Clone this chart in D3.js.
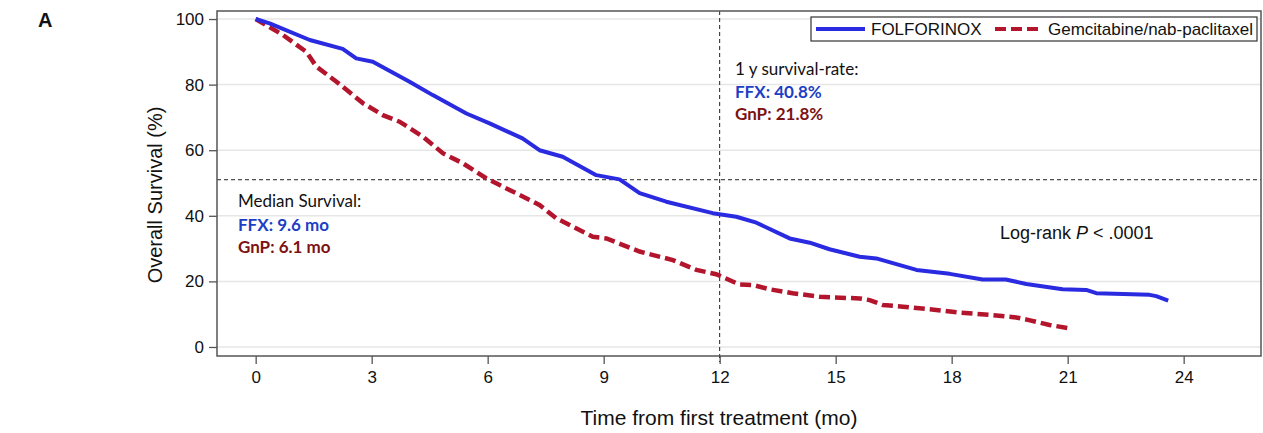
<!DOCTYPE html>
<html>
<head>
<meta charset="utf-8">
<script src="https://cdn.jsdelivr.net/npm/d3@7"></script>
<style>
  html, body { margin: 0; padding: 0; background: #fff; }
  svg { display: block; }
</style>
</head>
<body>
<div id="chart"></div>
<script>
// Kaplan-Meier curves (months, % alive)
const ffxMonths = [0, 0.36, 1.4, 2.25, 2.6, 3.03, 3.98, 4.58, 5.45, 6.05, 6.9, 7.34, 7.94, 8.81, 9.41, 9.93,
  10.62, 11.82, 12.43, 12.95, 13.81, 14.33, 14.84, 15.62, 16.05, 17.09, 17.95, 18.8, 19.4, 19.93, 20.87,
  21.48, 21.74, 23.12, 23.29, 23.6];
const ffxSurvival = [100, 98.7, 93.6, 90.9, 88, 87, 80.9, 76.8, 71.2, 68.2, 63.6, 60, 58, 52.4, 51.1, 46.9,
  44.3, 40.8, 39.7, 37.9, 33.1, 31.8, 29.8, 27.5, 27.0, 23.5, 22.3, 20.6, 20.6, 19.2, 17.6,
  17.4, 16.4, 15.9, 15.5, 14.1];

const gnpMonths = [0, 0.71, 1.31, 1.57, 2.09, 2.78, 3.29, 3.72, 4.33, 4.84, 5.36, 5.97, 6.31, 7.34, 7.78,
  8.72, 9.07, 9.93, 10.79, 11.4, 11.91, 12.5, 12.86, 13.29, 13.89, 14.59, 15.62, 15.88, 16.22, 16.74,
  17.6, 18.2, 18.98, 19.67, 20.0, 20.53, 21.05];
const gnpSurvival = [100, 95.1, 90, 85.5, 80.9, 74.3, 70.7, 68.7, 64.1, 59.1, 56, 51.4, 49.4, 43.3, 39.2,
  33.6, 33.1, 29.1, 26.5, 23.5, 22.2, 19.1, 18.9, 17.6, 16.4, 15.3, 14.8, 14.3, 12.8, 12.3,
  11.3, 10.5, 9.8, 9.0, 8.2, 6.7, 5.7];

const xTicks = [0, 3, 6, 9, 12, 15, 18, 21, 24];
const yTicks = [0, 20, 40, 60, 80, 100];
const seriesNames = ['FOLFORINOX', 'Gemcitabine/nab-paclitaxel'];
const medianLine = 51;
const landmarkMonth = 12;

const W = 1263, H = 433;
const plotLeft = 217, plotRight = 1261, plotTop = 11, plotBottom = 356;

const svg = d3.select('#chart').append('svg').attr('width', W).attr('height', H);

const x = d3.scaleLinear().domain([-1, 26]).range([plotLeft, plotRight]);
const y = d3.scaleLinear().domain([-2.75, 102.45]).range([plotBottom, plotTop]);

const axisFont = 'Liberation Sans, Arial, sans-serif';
const noteFont = 'Lato, "Open Sans", sans-serif';

// Grid lines
svg.append('g')
  .selectAll('line')
  .data(yTicks)
  .enter()
  .append('line')
  .attr('x1', plotLeft).attr('x2', plotRight)
  .attr('y1', (d) => y(d)).attr('y2', (d) => y(d))
  .attr('stroke', '#e6e6e6').attr('stroke-width', 1.5);

// Axes
const xAxis = svg.append('g')
  .attr('transform', `translate(0,${plotBottom})`)
  .call(d3.axisBottom(x).tickValues(xTicks).tickSize(8).tickPadding(7));
const yAxis = svg.append('g')
  .attr('transform', `translate(${plotLeft},0)`)
  .call(d3.axisLeft(y).tickValues(yTicks).tickSize(8).tickPadding(5));
[xAxis, yAxis].forEach((g) => {
  g.select('.domain').remove();
  g.selectAll('line').attr('stroke', '#555').attr('stroke-width', 1.3);
  g.selectAll('text').attr('font-family', axisFont).attr('font-size', 17).attr('fill', '#111');
});

// Reference lines
svg.append('line')
  .attr('x1', plotLeft).attr('x2', plotRight)
  .attr('y1', y(medianLine)).attr('y2', y(medianLine))
  .attr('stroke', '#222').attr('stroke-width', 1).attr('stroke-dasharray', '4,3');
svg.append('line')
  .attr('x1', x(landmarkMonth)).attr('x2', x(landmarkMonth))
  .attr('y1', plotTop).attr('y2', plotBottom + 6)
  .attr('stroke', '#222').attr('stroke-width', 1).attr('stroke-dasharray', '4,3');

// Curves
const line = d3.line().x((d) => x(d[0])).y((d) => y(d[1]));
const ffxData = ffxMonths.map((m, i) => [m, ffxSurvival[i]]);
const gnpData = gnpMonths.map((m, i) => [m, gnpSurvival[i]]);

svg.append('path')
  .datum(gnpData)
  .attr('d', line)
  .attr('fill', 'none')
  .attr('stroke', '#b3152d')
  .attr('stroke-width', 4.5)
  .attr('stroke-dasharray', '11,5');
svg.append('path')
  .datum(ffxData)
  .attr('d', line)
  .attr('fill', 'none')
  .attr('stroke', '#2a2ae0')
  .attr('stroke-width', 4)
  .attr('stroke-linejoin', 'round');

// Frame
svg.append('rect')
  .attr('x', plotLeft).attr('y', plotTop)
  .attr('width', plotRight - plotLeft).attr('height', plotBottom - plotTop)
  .attr('fill', 'none').attr('stroke', '#555').attr('stroke-width', 1.5);

// Legend
const legend = svg.append('g');
legend.append('rect')
  .attr('x', 811).attr('y', 17).attr('width', 446).attr('height', 24)
  .attr('fill', '#fff').attr('stroke', '#333').attr('stroke-width', 1.2);
legend.append('line')
  .attr('x1', 816).attr('x2', 865).attr('y1', 29).attr('y2', 29)
  .attr('stroke', '#2a2ae0').attr('stroke-width', 4);
legend.append('text')
  .attr('x', 871).attr('y', 35)
  .attr('font-family', axisFont).attr('font-size', 17).attr('fill', '#111')
  .text(seriesNames[0]);
legend.append('line')
  .attr('x1', 995).attr('x2', 1040).attr('y1', 29).attr('y2', 29)
  .attr('stroke', '#b3152d').attr('stroke-width', 4).attr('stroke-dasharray', '11,5');
legend.append('text')
  .attr('x', 1048).attr('y', 35)
  .attr('font-family', axisFont).attr('font-size', 17).attr('fill', '#111')
  .text(seriesNames[1]);

// Annotations
function note(xPos, yPos, txt, color, bold) {
  svg.append('text')
    .attr('x', xPos).attr('y', yPos)
    .attr('font-family', noteFont).attr('font-size', 17)
    .attr('font-weight', bold ? 'bold' : 'normal')
    .attr('fill', color)
    .text(txt);
}
note(735, 75, '1 y survival-rate:', '#111', false);
note(735, 98, 'FFX: 40.8%', '#1c3fc6', true);
note(735, 120, 'GnP: 21.8%', '#7d1212', true);
note(238, 207, 'Median Survival:', '#111', false);
note(238, 231, 'FFX: 9.6 mo', '#1c3fc6', true);
note(238, 253, 'GnP: 6.1 mo', '#7d1212', true);

const lr = svg.append('text')
  .attr('x', 1000).attr('y', 239)
  .attr('font-family', axisFont).attr('font-size', 18).attr('fill', '#111');
lr.append('tspan').text('Log-rank ');
lr.append('tspan').attr('font-style', 'italic').text('P');
lr.append('tspan').text(' < .0001');

// Axis titles
svg.append('text')
  .attr('x', 719).attr('y', 425)
  .attr('text-anchor', 'middle')
  .attr('font-family', axisFont).attr('font-size', 21).attr('fill', '#111')
  .text('Time from first treatment (mo)');
svg.append('text')
  .attr('transform', 'translate(162,195) rotate(-90)')
  .attr('text-anchor', 'middle')
  .attr('font-family', axisFont).attr('font-size', 20).attr('fill', '#111')
  .text('Overall Survival (%)');

// Panel letter
svg.append('text')
  .attr('x', 38).attr('y', 27)
  .attr('font-family', axisFont).attr('font-size', 20).attr('font-weight', 'bold')
  .attr('fill', '#111')
  .text('A');
</script>
</body>
</html>
